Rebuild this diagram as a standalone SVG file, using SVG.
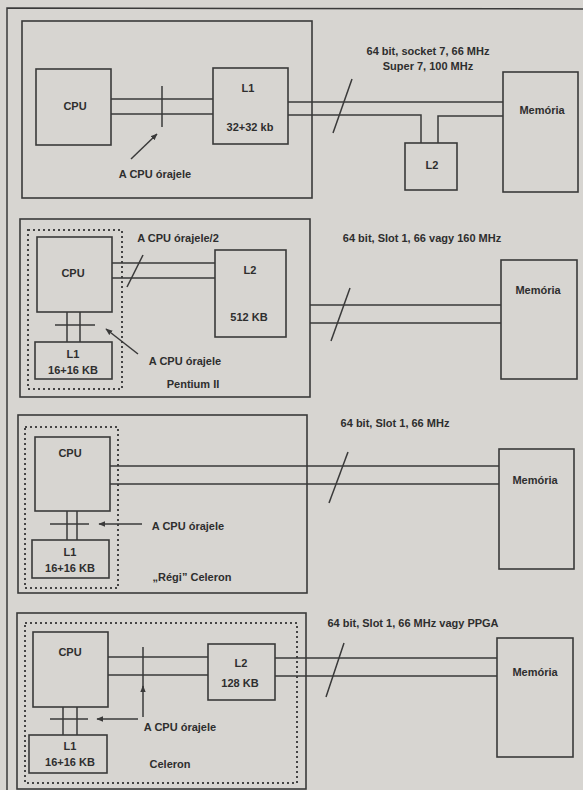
<svg xmlns="http://www.w3.org/2000/svg" width="583" height="790" viewBox="0 0 583 790">
<style>
.bg{fill:#d7d5d1}
.box{fill:none;stroke:#3a3a3a;stroke-width:1.6}
.dot{fill:none;stroke:#444;stroke-width:2;stroke-dasharray:2,3}
.ln{fill:none;stroke:#3a3a3a;stroke-width:1.5}
.t{font-family:"Liberation Sans",Arial,sans-serif;font-size:11px;font-weight:bold;fill:#2e2e2e;text-anchor:middle}
</style>
<defs>
<marker id="ah" viewBox="0 0 10 10" refX="9" refY="5" markerWidth="7" markerHeight="7" orient="auto" markerUnits="userSpaceOnUse">
<path d="M0,1 L10,5 L0,9 z" fill="#3a3a3a"/>
</marker>
</defs>
<rect class="bg" x="0" y="0" width="583" height="790"/>
<g id="frame"><path class="ln" d="M7,790 L7,8 L583,9"/></g>

<!-- Panel 1 -->
<g id="panel1"><rect class="box" x="22" y="21" width="290" height="177"/></g>
<g id="cpu1"><rect class="box" x="36" y="69" width="75" height="76"/><text class="t" x="75" y="110">CPU</text></g>
<g id="l1a"><rect class="box" x="213" y="68" width="75" height="76"/><text class="t" x="248" y="92">L1</text><text class="t" x="250" y="131">32+32 kb</text></g>
<g id="l2a"><rect class="box" x="405" y="143" width="52" height="47"/><text class="t" x="432" y="169">L2</text></g>
<g id="mem1"><rect class="box" x="503" y="72" width="75" height="120"/><text class="t" x="542" y="114">Memória</text></g>
<g id="lbl1"><text class="t" x="428" y="55">64 bit, socket 7, 66 MHz</text><text class="t" x="428" y="70">Super 7, 100 MHz</text><text class="t" x="155" y="178">A CPU órajele</text></g>

<!-- Panel 2 -->
<g id="panel2"><rect class="box" x="20" y="219" width="290" height="178"/><rect class="dot" x="28" y="230" width="94" height="159"/></g>
<g id="cpu2"><rect class="box" x="37" y="237" width="75" height="75"/><text class="t" x="73" y="277">CPU</text></g>
<g id="l1b"><rect class="box" x="35" y="342" width="77" height="37"/><text class="t" x="73" y="358">L1</text><text class="t" x="73" y="374">16+16 KB</text></g>
<g id="l2b"><rect class="box" x="215" y="250" width="71" height="87"/><text class="t" x="250" y="274">L2</text><text class="t" x="249" y="321">512 KB</text></g>
<g id="mem2"><rect class="box" x="501" y="260" width="76" height="119"/><text class="t" x="538" y="294">Memória</text></g>
<g id="lbl2"><text class="t" x="422" y="242">64 bit, Slot 1, 66 vagy 160 MHz</text><text class="t" x="178" y="242">A CPU órajele/2</text><text class="t" x="185" y="365">A CPU órajele</text><text class="t" x="193" y="388">Pentium II</text></g>

<!-- Panel 3 -->
<g id="panel3"><rect class="box" x="18" y="415" width="289" height="178"/><rect class="dot" x="25" y="427" width="93" height="161"/></g>
<g id="cpu3"><rect class="box" x="35" y="437" width="75" height="74"/><text class="t" x="70" y="457">CPU</text></g>
<g id="l1c"><rect class="box" x="32" y="540" width="77" height="38"/><text class="t" x="70" y="556">L1</text><text class="t" x="70" y="572">16+16 KB</text></g>
<g id="mem3"><rect class="box" x="499" y="449" width="75" height="120"/><text class="t" x="535" y="484">Memória</text></g>
<g id="lbl3"><text class="t" x="395" y="427">64 bit, Slot 1, 66 MHz</text><text class="t" x="188" y="530">A CPU órajele</text><text class="t" x="192" y="581">„Régi” Celeron</text></g>

<!-- Panel 4 -->
<g id="panel4"><rect class="box" x="17" y="613" width="289" height="176"/><rect class="dot" x="25" y="623" width="272" height="160"/></g>
<g id="cpu4"><rect class="box" x="33" y="632" width="75" height="75"/><text class="t" x="70" y="656">CPU</text></g>
<g id="l1d"><rect class="box" x="29" y="735" width="78" height="38"/><text class="t" x="70" y="750">L1</text><text class="t" x="70" y="766">16+16 KB</text></g>
<g id="l2d"><rect class="box" x="208" y="644" width="67" height="56"/><text class="t" x="241" y="667">L2</text><text class="t" x="240" y="687">128 KB</text></g>
<g id="mem4"><rect class="box" x="497" y="638" width="76" height="119"/><text class="t" x="535" y="676">Memória</text></g>
<g id="lbl4"><text class="t" x="413" y="627">64 bit, Slot 1, 66 MHz vagy PPGA</text><text class="t" x="180" y="731">A CPU órajele</text><text class="t" x="170" y="768">Celeron</text></g>

<g id="connectors">
<!-- panel 1 -->
<path class="ln" d="M111,99 H213 M111,114 H213"/>
<path class="ln" d="M162,86 V127"/>
<path class="ln" d="M131,159 L157,134" marker-end="url(#ah)"/>
<path class="ln" d="M288,102 H503 M288,115 H421 V143 M503,116 H438 V143"/>
<path class="ln" d="M333,133 L352,79"/>
<!-- panel 2 -->
<path class="ln" d="M112,263 H215 M112,278 H215"/>
<path class="ln" d="M127,287 L143,255"/>
<path class="ln" d="M67,312 V342 M80,312 V342 M55,325 H95"/>
<path class="ln" d="M138,354 L106,329" marker-end="url(#ah)"/>
<path class="ln" d="M310,305 H501 M310,323 H501"/>
<path class="ln" d="M331,341 L350,288"/>
<!-- panel 3 -->
<path class="ln" d="M110,466 H499 M110,484 H499"/>
<path class="ln" d="M329,503 L348,452"/>
<path class="ln" d="M67,511 V540 M77,511 V540 M50,524 H89"/>
<path class="ln" d="M142,524 H99" marker-end="url(#ah)"/>
<!-- panel 4 -->
<path class="ln" d="M108,657 H208 M108,675 H208"/>
<path class="ln" d="M143,647 V690"/>
<path class="ln" d="M143,717 V686" marker-end="url(#ah)"/>
<path class="ln" d="M63,707 V735 M77,707 V735 M50,719 H88"/>
<path class="ln" d="M138,719 H97" marker-end="url(#ah)"/>
<path class="ln" d="M275,658 H497 M275,676 H497"/>
<path class="ln" d="M326,697 L344,643"/>
</g>
</svg>
